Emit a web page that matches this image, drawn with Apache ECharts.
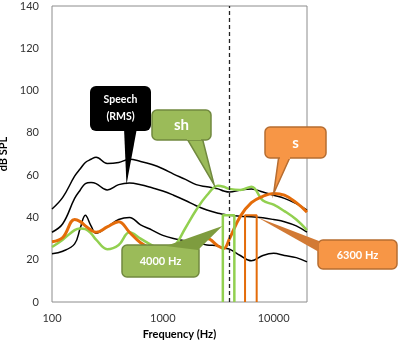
<!DOCTYPE html>
<html><head><meta charset="utf-8">
<script src="https://cdn.jsdelivr.net/npm/echarts@6/dist/echarts.min.js"></script>
<style>html,body{margin:0;padding:0;background:#fff}#c{width:400px;height:344px}</style>
</head><body><div id="c"></div>
<script>
// Frequencies (Hz) at which curves were read
const freqs = [100,125,160,180,200,225,250,315,400,500,630,800,1000,1250,1600,2000,2500,3150,3550,4000,5000,6300,8000,10000,12500,16000,20000];
// Speech spectrum: upper (peaks), RMS, lower (valleys)  dB SPL
const speechUpper = [44,49.5,59.5,63,66,67.5,68.5,65.5,66,67.5,66.5,65,63,60.5,58,55.5,54.5,53.5,52.5,52,53,53.5,52,50.5,49,46.5,43.5];
const speechRms   = [33,37,49,53,56,56.5,56,53,55.5,56.3,55.5,54,52.5,50.5,48,45.5,43.5,42,41.5,41,40.5,40.3,39.8,39,38,36,33];
const speechLower = [22.8,24,27.5,35,41,36,32.5,35.5,39,40,36.5,34,31.5,30,29,28,27,26.5,25.5,25,22,19.5,22,23,22,21,19];
// Phoneme spectra
const sSpectrum  = [28.5,30.5,39,38,36,34,33,35.5,38,33,28,25,23,23.5,26.5,28.5,30,26.5,25.3,30,40.5,47,50,51.3,50.5,47,42.5];
const shSpectrum = [26,29.5,34,34.8,34.5,32.5,29.5,25,27,33,30,26.8,24.5,26,35,43.5,50.5,55,54.5,53.5,53,54.5,48,46,43,39,34];
// Third-octave bands highlighted (lower edge, upper edge, level)
const band4000 = [3480, 4420, 41];
const band6300 = [5520, 7030, 41];
const markerFreq = 4000;
const yTicks = [0,20,40,60,80,100,120,140];
const xTicks = [100,1000,10000];
const labels = {speech:'Speech\n(RMS)', sh:'sh', s:'s', b4000:'4000 Hz', b6300:'6300 Hz'};

function pairs(vals){ return freqs.map((f,i)=>[f, vals[i]]); }
function bandPath(b){ return [[b[0],0],[b[0],b[2]],[b[1],b[2]],[b[1],0]]; }

const chart = echarts.init(document.getElementById('c'), null, {renderer:'canvas'});
const FONT = 'Lato, "Liberation Sans", sans-serif';
const blackLine = {type:'line', smooth:0.4, symbol:'none', lineStyle:{color:'#000', width:1.5}, z:2};
const option = {
  animation:false,
  grid:{left:52, right:93, top:6, bottom:42, show:true, borderColor:'#8c8c8c', borderWidth:1, outerBoundsMode:'none', containLabel:false},
  xAxis:{type:'log', logBase:10, min:100, max:20000,
    name:'Frequency (Hz)', nameLocation:'middle', nameGap:27,
    nameTextStyle:{fontFamily:FONT, fontWeight:'bold', fontSize:11, color:'#000'},
    axisLine:{show:false}, axisTick:{show:false}, splitLine:{show:false}, minorTick:{show:false},
    axisLabel:{margin:11, fontFamily:FONT, fontSize:11, color:'#333',
      formatter:v => xTicks.some(t=>Math.abs(t-v)/t<1e-6) ? String(Math.round(v)) : ''}},
  yAxis:{type:'value', min:yTicks[0], max:yTicks[yTicks.length-1], interval:20,
    name:'dB SPL', nameLocation:'middle', nameGap:30,
    nameTextStyle:{fontFamily:FONT, fontWeight:'bold', fontSize:11, color:'#000'},
    axisLine:{show:false}, axisTick:{show:false}, splitLine:{show:false},
    axisLabel:{margin:13, fontFamily:FONT, fontSize:11, color:'#333'}},
  series:[
    Object.assign({}, blackLine, {name:'upper', data:pairs(speechUpper)}),
    Object.assign({}, blackLine, {name:'rms', data:pairs(speechRms)}),
    Object.assign({}, blackLine, {name:'lower', data:pairs(speechLower),
      markLine:{silent:true, symbol:'none', label:{show:false},
        lineStyle:{type:[4,3], color:'#222', width:1.3}, data:[{xAxis:markerFreq}]}}),
    {type:'line', name:'sh', smooth:0.4, symbol:'none', lineStyle:{color:'#92D050', width:2.5}, data:pairs(shSpectrum), z:3},
    {type:'line', name:'s', smooth:0.4, symbol:'none', lineStyle:{color:'#E46C0A', width:3}, data:pairs(sSpectrum), z:4},
    {type:'line', name:'band4000', symbol:'none', lineStyle:{color:'#92D050', width:2.5}, data:bandPath(band4000), z:5},
    {type:'line', name:'band6300', symbol:'none', lineStyle:{color:'#E46C0A', width:2}, data:bandPath(band6300), z:5}
  ]
};
chart.setOption(option);

const px = p => chart.convertToPixel({gridIndex:0}, p);
const tipSpeech = px([470, 55.5]);
const tipSh = px([2900, 55.5]);
const tipS = px([10000, 51.3]);
const tip4000 = px([band4000[0]-30, 36]);
const tip6300 = px([band6300[1]+150, 40]);

const GREEN='#9BBB59', GREEN_B='#71893F', ORANGE='#F79646', ORANGE_B='#B66D31';
function txt(t, x, y, size){
  return {type:'text', z:102, style:{text:t, x:x, y:y, fill:'#fff', font:'bold '+size+'px '+FONT,
    align:'center', verticalAlign:'middle', textAlign:'center', textVerticalAlign:'middle', lineHeight:17}};
}
chart.setOption({graphic:{elements:[
  // Speech (RMS)
  {type:'polygon', z:100, shape:{points:[[124,128],[137,128],tipSpeech]}, style:{fill:'#000'}},
  {type:'rect', z:101, shape:{x:90, y:86, width:61, height:45, r:6}, style:{fill:'#000'}},
  txt(labels.speech, 120.5, 108.5, 10.5),
  // sh
  {type:'polygon', z:100, shape:{points:[[186,137],[202,137],tipSh]}, style:{fill:GREEN, stroke:GREEN_B, lineWidth:1.5}},
  {type:'rect', z:101, shape:{x:152, y:110, width:59, height:30, r:5}, style:{fill:GREEN, stroke:GREEN_B, lineWidth:1.5}},
  {type:'rect', z:101, shape:{x:187, y:136, width:14, height:4}, style:{fill:GREEN}},
  txt(labels.sh, 181.5, 125, 15),
  // s
  {type:'polygon', z:100, shape:{points:[[279,155],[291,155],tipS]}, style:{fill:ORANGE, stroke:ORANGE_B, lineWidth:1.5}},
  {type:'rect', z:101, shape:{x:265, y:127, width:61, height:31, r:5}, style:{fill:ORANGE, stroke:ORANGE_B, lineWidth:1.5}},
  {type:'rect', z:101, shape:{x:280, y:154, width:10, height:5}, style:{fill:ORANGE}},
  txt(labels.s, 295.5, 143, 15),
  // 4000 Hz
  {type:'rect', z:100, shape:{x:122, y:245, width:77, height:32, r:5}, style:{fill:GREEN, stroke:GREEN_B, lineWidth:1.5}},
  {type:'polygon', z:101, shape:{points:[[166,246],[198,250],tip4000]}, style:{fill:'#7E9C3F'}},
  txt(labels.b4000, 160.5, 261.5, 11),
  // 6300 Hz
  {type:'rect', z:100, shape:{x:318, y:240, width:79, height:29, r:5}, style:{fill:ORANGE, stroke:ORANGE_B, lineWidth:1.5}},
  {type:'polygon', z:101, shape:{points:[[319,241],[319,252],tip6300]}, style:{fill:'#D27A35'}},
  txt(labels.b6300, 357.5, 255, 11)
]}});
</script></body></html>
